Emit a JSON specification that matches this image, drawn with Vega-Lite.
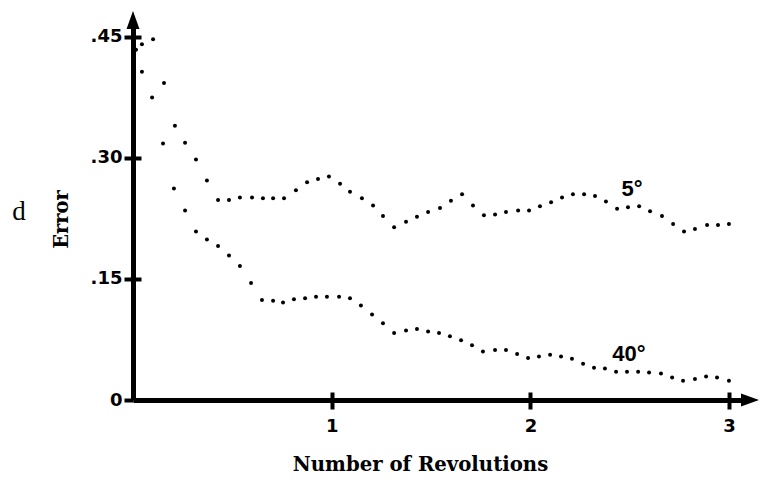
{
  "$schema": "https://vega.github.io/schema/vega-lite/v6.json",
  "width": 617,
  "height": 380,
  "autosize": {"type": "none"},
  "padding": {"left": 133, "top": 20, "right": 12, "bottom": 80},
  "background": "white",
  "config": {"view": {"stroke": null}},
  "datasets": {
    "curves": [
      {"series": "5°", "rev": 0.045, "error": 0.441},
      {"series": "5°", "rev": 0.101, "error": 0.447},
      {"series": "5°", "rev": 0.156, "error": 0.393},
      {"series": "5°", "rev": 0.211, "error": 0.340},
      {"series": "5°", "rev": 0.262, "error": 0.319},
      {"series": "5°", "rev": 0.317, "error": 0.298},
      {"series": "5°", "rev": 0.372, "error": 0.272},
      {"series": "5°", "rev": 0.428, "error": 0.248},
      {"series": "5°", "rev": 0.483, "error": 0.248},
      {"series": "5°", "rev": 0.538, "error": 0.251},
      {"series": "5°", "rev": 0.599, "error": 0.251},
      {"series": "5°", "rev": 0.654, "error": 0.250},
      {"series": "5°", "rev": 0.705, "error": 0.250},
      {"series": "5°", "rev": 0.760, "error": 0.250},
      {"series": "5°", "rev": 0.820, "error": 0.260},
      {"series": "5°", "rev": 0.876, "error": 0.270},
      {"series": "5°", "rev": 0.931, "error": 0.274},
      {"series": "5°", "rev": 0.986, "error": 0.277},
      {"series": "5°", "rev": 1.042, "error": 0.268},
      {"series": "5°", "rev": 1.092, "error": 0.258},
      {"series": "5°", "rev": 1.152, "error": 0.250},
      {"series": "5°", "rev": 1.208, "error": 0.241},
      {"series": "5°", "rev": 1.258, "error": 0.228},
      {"series": "5°", "rev": 1.314, "error": 0.214},
      {"series": "5°", "rev": 1.374, "error": 0.221},
      {"series": "5°", "rev": 1.429, "error": 0.227},
      {"series": "5°", "rev": 1.485, "error": 0.233},
      {"series": "5°", "rev": 1.545, "error": 0.238},
      {"series": "5°", "rev": 1.600, "error": 0.247},
      {"series": "5°", "rev": 1.656, "error": 0.255},
      {"series": "5°", "rev": 1.711, "error": 0.241},
      {"series": "5°", "rev": 1.766, "error": 0.229},
      {"series": "5°", "rev": 1.822, "error": 0.230},
      {"series": "5°", "rev": 1.877, "error": 0.233},
      {"series": "5°", "rev": 1.938, "error": 0.235},
      {"series": "5°", "rev": 1.993, "error": 0.235},
      {"series": "5°", "rev": 2.048, "error": 0.240},
      {"series": "5°", "rev": 2.104, "error": 0.245},
      {"series": "5°", "rev": 2.159, "error": 0.251},
      {"series": "5°", "rev": 2.214, "error": 0.255},
      {"series": "5°", "rev": 2.270, "error": 0.255},
      {"series": "5°", "rev": 2.325, "error": 0.253},
      {"series": "5°", "rev": 2.380, "error": 0.246},
      {"series": "5°", "rev": 2.436, "error": 0.237},
      {"series": "5°", "rev": 2.491, "error": 0.239},
      {"series": "5°", "rev": 2.547, "error": 0.240},
      {"series": "5°", "rev": 2.602, "error": 0.234},
      {"series": "5°", "rev": 2.662, "error": 0.228},
      {"series": "5°", "rev": 2.718, "error": 0.218},
      {"series": "5°", "rev": 2.773, "error": 0.209},
      {"series": "5°", "rev": 2.828, "error": 0.212},
      {"series": "5°", "rev": 2.889, "error": 0.217},
      {"series": "5°", "rev": 2.944, "error": 0.217},
      {"series": "5°", "rev": 2.999, "error": 0.218},
      {"series": "40°", "rev": 0.015, "error": 0.434},
      {"series": "40°", "rev": 0.045, "error": 0.407},
      {"series": "40°", "rev": 0.096, "error": 0.375},
      {"series": "40°", "rev": 0.151, "error": 0.318},
      {"series": "40°", "rev": 0.206, "error": 0.262},
      {"series": "40°", "rev": 0.262, "error": 0.235},
      {"series": "40°", "rev": 0.317, "error": 0.209},
      {"series": "40°", "rev": 0.372, "error": 0.199},
      {"series": "40°", "rev": 0.428, "error": 0.191},
      {"series": "40°", "rev": 0.483, "error": 0.179},
      {"series": "40°", "rev": 0.538, "error": 0.166},
      {"series": "40°", "rev": 0.594, "error": 0.145},
      {"series": "40°", "rev": 0.649, "error": 0.124},
      {"series": "40°", "rev": 0.705, "error": 0.123},
      {"series": "40°", "rev": 0.755, "error": 0.121},
      {"series": "40°", "rev": 0.810, "error": 0.125},
      {"series": "40°", "rev": 0.866, "error": 0.126},
      {"series": "40°", "rev": 0.921, "error": 0.128},
      {"series": "40°", "rev": 0.976, "error": 0.128},
      {"series": "40°", "rev": 1.037, "error": 0.128},
      {"series": "40°", "rev": 1.092, "error": 0.126},
      {"series": "40°", "rev": 1.147, "error": 0.117},
      {"series": "40°", "rev": 1.203, "error": 0.106},
      {"series": "40°", "rev": 1.258, "error": 0.095},
      {"series": "40°", "rev": 1.314, "error": 0.083},
      {"series": "40°", "rev": 1.374, "error": 0.086},
      {"series": "40°", "rev": 1.429, "error": 0.088},
      {"series": "40°", "rev": 1.485, "error": 0.085},
      {"series": "40°", "rev": 1.540, "error": 0.083},
      {"series": "40°", "rev": 1.595, "error": 0.079},
      {"series": "40°", "rev": 1.651, "error": 0.074},
      {"series": "40°", "rev": 1.706, "error": 0.068},
      {"series": "40°", "rev": 1.761, "error": 0.060},
      {"series": "40°", "rev": 1.822, "error": 0.062},
      {"series": "40°", "rev": 1.877, "error": 0.062},
      {"series": "40°", "rev": 1.933, "error": 0.057},
      {"series": "40°", "rev": 1.988, "error": 0.052},
      {"series": "40°", "rev": 2.043, "error": 0.054},
      {"series": "40°", "rev": 2.099, "error": 0.056},
      {"series": "40°", "rev": 2.154, "error": 0.054},
      {"series": "40°", "rev": 2.209, "error": 0.051},
      {"series": "40°", "rev": 2.265, "error": 0.045},
      {"series": "40°", "rev": 2.320, "error": 0.040},
      {"series": "40°", "rev": 2.375, "error": 0.039},
      {"series": "40°", "rev": 2.431, "error": 0.035},
      {"series": "40°", "rev": 2.486, "error": 0.035},
      {"series": "40°", "rev": 2.542, "error": 0.035},
      {"series": "40°", "rev": 2.597, "error": 0.034},
      {"series": "40°", "rev": 2.657, "error": 0.033},
      {"series": "40°", "rev": 2.713, "error": 0.028},
      {"series": "40°", "rev": 2.768, "error": 0.024},
      {"series": "40°", "rev": 2.828, "error": 0.026},
      {"series": "40°", "rev": 2.884, "error": 0.029},
      {"series": "40°", "rev": 2.939, "error": 0.028},
      {"series": "40°", "rev": 2.999, "error": 0.024}
    ],
    "labels": [
      {"label": "5°", "rev": 2.511, "error": 0.262},
      {"label": "40°", "rev": 2.496, "error": 0.057}
    ]
  },
  "layer": [
    {
      "data": {"name": "curves"},
      "mark": {"type": "point", "filled": true, "size": 16, "color": "black", "opacity": 1},
      "encoding": {
        "x": {
          "field": "rev", "type": "quantitative",
          "scale": {"domain": [0, 3.105], "nice": false, "zero": false},
          "axis": {
            "values": [1, 2, 3], "format": "d", "grid": false,
            "domainWidth": 5, "domainColor": "black", "domainCap": "butt",
            "tickSize": 9, "tickWidth": 4, "tickColor": "black",
            "labelFont": "DejaVu Sans", "labelFontWeight": "bold", "labelFontSize": 18,
            "labelColor": "black", "labelPadding": 8,
            "title": "Number of Revolutions", "titleFont": "DejaVu Serif", "titleFontWeight": "bold",
            "titleFontSize": 19.7, "titleColor": "black", "titleX": 287, "titleY": 70,
            "titleBaseline": "alphabetic", "titleAlign": "center"
          }
        },
        "y": {
          "field": "error", "type": "quantitative",
          "scale": {"domain": [0, 0.471], "nice": false},
          "axis": {
            "values": [0, 0.15, 0.3, 0.45], "grid": false,
            "labelExpr": "datum.value == 0 ? '0' : replace(format(datum.value, '.2f'), '0.', '.')",
            "domainWidth": 5, "domainColor": "black", "domainCap": "butt",
            "tickSize": 9, "tickWidth": 4, "tickColor": "black",
            "labelFont": "DejaVu Sans", "labelFontWeight": "bold", "labelFontSize": 18,
            "labelColor": "black", "labelPadding": 2,
            "title": "Error", "titleFont": "DejaVu Serif", "titleFontWeight": "bold",
            "titleFontSize": 19.5, "titleColor": "black", "titleX": -72, "titleY": 199,
            "titleAngle": 270, "titleBaseline": "middle", "titleAlign": "center"
          }
        },
        "detail": {"field": "series", "type": "nominal"}
      }
    },
    {
      "data": {"name": "labels"},
      "mark": {"type": "text", "font": "Liberation Sans", "fontWeight": "bold", "fontSize": 22, "color": "black", "align": "center", "baseline": "middle"},
      "encoding": {
        "x": {
          "field": "rev", "type": "quantitative",
          "scale": {"domain": [0, 3.105], "nice": false, "zero": false},
          "axis": {"orient": "bottom", "values": [1, 2, 3], "domain": false, "labels": false, "title": null, "grid": false, "tickSize": -8, "tickWidth": 4, "tickColor": "black"}
        },
        "y": {
          "field": "error", "type": "quantitative",
          "scale": {"domain": [0, 0.471], "nice": false},
          "axis": {"orient": "left", "values": [0.15, 0.3, 0.45], "domain": false, "labels": false, "title": null, "grid": false, "tickSize": -8, "tickWidth": 4, "tickColor": "black"}
        },
        "text": {"field": "label", "type": "nominal"}
      }
    },
    {
      "data": {"values": [{}]},
      "mark": {"type": "point", "shape": "M-0.72,1L0,-1L0.72,1Z", "filled": true, "size": 324, "color": "black", "opacity": 1},
      "encoding": {
        "x": {"datum": 0, "type": "quantitative", "axis": null},
        "y": {"datum": 0.471, "type": "quantitative", "axis": null}
      }
    },
    {
      "data": {"values": [{}]},
      "mark": {"type": "point", "shape": "M-1,-0.72L1,0L-1,0.72Z", "filled": true, "size": 324, "color": "black", "opacity": 1},
      "encoding": {
        "x": {"datum": 3.105, "type": "quantitative", "axis": null},
        "y": {"datum": 0, "type": "quantitative", "axis": null}
      }
    },
    {
      "data": {"values": [{}]},
      "mark": {"type": "text", "text": "d", "font": "Liberation Serif", "fontSize": 27, "color": "black", "align": "center", "baseline": "alphabetic"},
      "encoding": {
        "x": {"datum": -0.574, "type": "quantitative", "axis": null},
        "y": {"datum": 0.223, "type": "quantitative", "axis": null}
      }
    }
  ],
  "resolve": {"axis": {"x": "independent", "y": "independent"}}
}
